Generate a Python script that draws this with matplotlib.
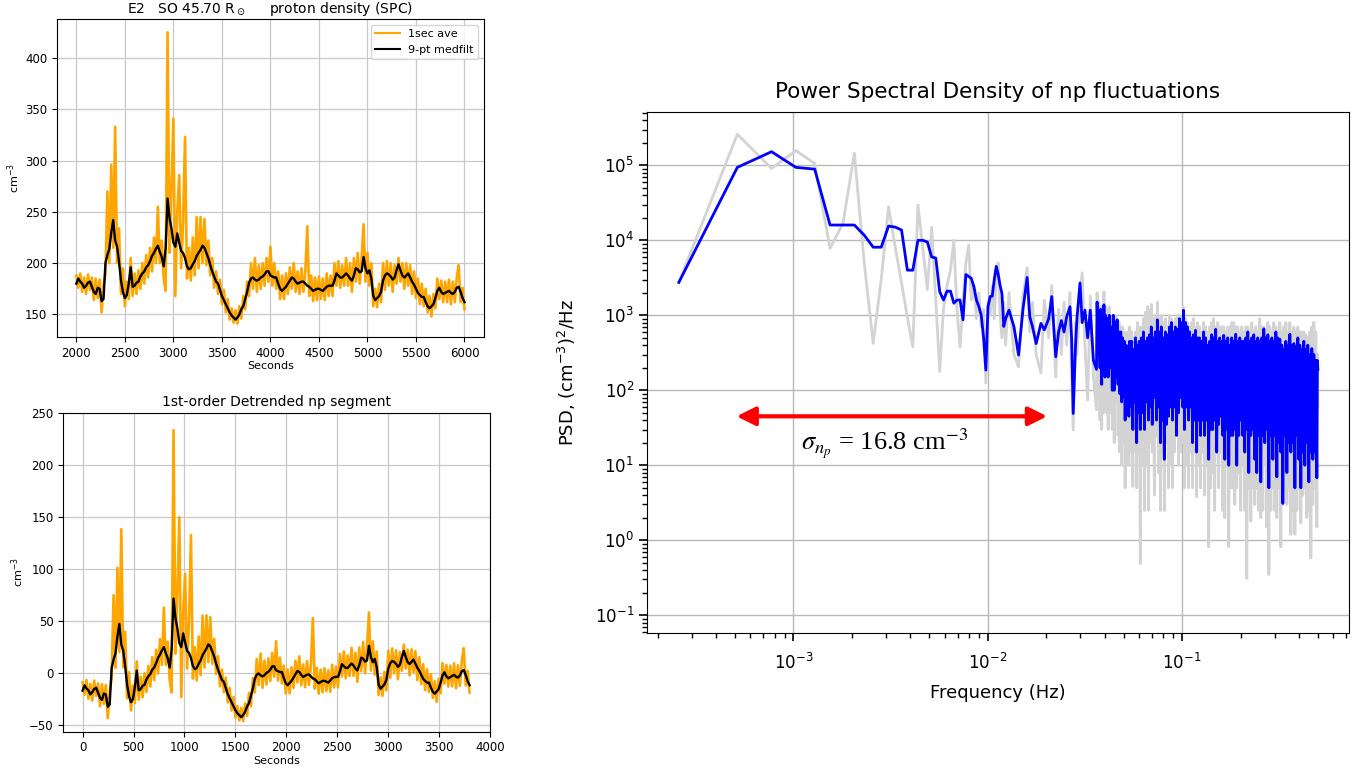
import numpy as np
import matplotlib
matplotlib.use("Agg")
import matplotlib.pyplot as plt

# ---- proton density (SPC), 1 s averages read every 20 s from t0 ----
t0 = 2000
dt = 20
ave_1s = [
    188, 176, 190, 172, 186, 170, 189, 174, 186, 164,
    185, 166, 184, 152, 178, 190, 270, 200, 296, 215,
    333, 200, 234, 170, 195, 158, 182, 165, 205, 168,
    190, 170, 193, 175, 200, 180, 208, 186, 215, 192,
    225, 200, 255, 200, 222, 185, 173, 425, 210, 270,
    341, 168, 250, 286, 195, 240, 323, 185, 215, 183,
    225, 188, 245, 195, 245, 200, 243, 198, 222, 188,
    205, 176, 192, 170, 184, 160, 174, 152, 165, 145,
    156, 142, 154, 141, 158, 146, 168, 155, 182, 168,
    200, 175, 205, 172, 198, 175, 200, 178, 205, 182,
    216, 178, 200, 175, 192, 165, 188, 165, 190, 170,
    196, 175, 200, 172, 192, 170, 195, 172, 192, 236,
    168, 188, 163, 186, 164, 187, 165, 185, 164, 190,
    168, 188, 168, 200, 178, 202, 176, 198, 178, 205,
    178, 200, 172, 205, 182, 210, 180, 205, 238, 182,
    210, 178, 200, 158, 175, 157, 180, 162, 200, 174,
    202, 178, 200, 172, 198, 180, 205, 182, 200, 175,
    200, 178, 198, 170, 192, 166, 185, 160, 180, 158,
    175, 152, 168, 148, 170, 156, 185, 165, 183, 162,
    182, 162, 184, 160, 182, 162, 186, 198, 162, 176,
    155,
]
medfilt = [
    180, 185, 182, 180, 176, 178, 181, 182, 177, 172,
    170, 176, 175, 163, 165, 200, 208, 214, 230, 242,
    222, 216, 201, 183, 172, 166, 169, 180, 196, 177,
    178, 181, 182, 187, 190, 192, 196, 198, 202, 207,
    210, 214, 217, 211, 206, 197, 214, 263, 244, 234,
    220, 216, 229, 220, 212, 210, 205, 197, 194, 195,
    199, 202, 207, 210, 213, 217, 215, 210, 205, 198,
    192, 187, 182, 180, 174, 168, 164, 160, 156, 152,
    149, 147, 145, 147, 150, 155, 158, 165, 172, 181,
    185, 186, 184, 183, 184, 186, 187, 189, 192, 192,
    188, 187, 186, 186, 180, 175, 173, 175, 177, 180,
    183, 186, 185, 182, 180, 181, 182, 182, 180, 178,
    177, 175, 173, 174, 175, 175, 174, 173, 175, 177,
    178, 178, 178, 183, 190, 188, 186, 186, 188, 190,
    188, 185, 183, 188, 195, 194, 191, 192, 206, 195,
    190, 193, 185, 168, 164, 166, 168, 172, 183, 188,
    190, 189, 187, 184, 186, 193, 199, 193, 188, 186,
    188, 190, 186, 182, 179, 175, 171, 169, 167, 167,
    162, 158, 156, 158, 160, 166, 173, 176, 172, 170,
    171, 172, 173, 171, 170, 172, 176, 177, 172, 166,
    162,
]
seg_scale = 0.95   # segment seconds after data gaps are dropped

# ---- PSD of the detrended segment ----
n_fft = 3888
psd_bin = list(range(1, 41)) + [
    41, 42, 43, 44, 45, 46, 47, 48, 50, 53, 56, 59, 62, 64, 66, 69, 73, 76,
    80, 83, 87, 90, 93, 96, 99, 103, 105, 107, 110, 112, 116, 119, 123, 127,
    131, 136,
    141, 142, 144, 145, 147, 148, 150, 151, 153, 154,
    156, 157, 159, 160, 162, 164, 166, 168, 170, 172,
    174, 176, 178, 180, 182, 184, 186, 188, 190, 192,
    194, 196, 198, 200, 202, 204, 207, 209, 212, 214,
    217, 219, 222, 224, 227, 229, 232, 234, 237, 240,
    243, 246, 249, 252, 255, 258, 261, 264, 267, 270,
    273, 276, 280, 283, 287, 290, 294, 297, 301, 304,
    308, 311, 315, 319, 323, 327, 331, 335, 339, 343,
    347, 351, 355, 359, 364, 368, 373, 377, 382, 386,
    391, 395, 400, 405, 410, 415, 420, 425, 430, 435,
    440, 445, 451, 456, 462, 467, 473, 478, 484, 490,
    496, 502, 508, 514, 520, 526, 533, 539, 546, 552,
    559, 565, 572, 579, 586, 593, 600, 607, 615, 622,
    630, 637, 645, 652, 660, 668, 676, 684, 692, 700,
    709, 717, 726, 734, 743, 752, 761, 770, 779, 788,
    798, 807, 817, 827, 837, 847, 857, 867, 878, 888,
    899, 909, 920, 931, 942, 953, 965, 976, 988, 1000,
    1012, 1024, 1036, 1048, 1061, 1074, 1087, 1100, 1113, 1126,
    1140, 1153, 1167, 1181, 1195, 1209, 1224, 1238, 1253, 1268,
    1283, 1298, 1314, 1330, 1346, 1362, 1378, 1394, 1411, 1428,
    1445, 1462, 1480, 1497, 1515, 1533, 1551, 1569, 1588, 1607,
    1626, 1645, 1665, 1685, 1705, 1725, 1746, 1767, 1788, 1809,
    1831, 1853, 1875, 1897, 1920, 1932, 1944,
]
psd_raw = [
    2750, 260000, 91000, 157000, 106000, 7800, 17000, 145000, 5000, 424,
    3000, 28000, 8000, 2700, 940, 380, 29600, 8000, 2200, 15000,
    1600, 178, 1200, 2500, 4000, 10000, 1200, 380, 1500, 5000,
    8600, 1600, 2500, 900, 2000, 700, 1200, 125, 1500, 1000,
    2500, 900, 3000, 5000, 1000, 500, 1500, 400, 2000, 300, 205, 1800,
    4300, 600, 1500, 300, 170, 1600, 500, 2500, 150, 1200, 300, 1500,
    400, 2000, 200, 29.5, 800, 300, 2000, 3700, 400, 74, 1800, 150,
    55, 2000, 80, 1500, 40, 1300, 30, 1200, 50, 2050,
    100, 1300, 50, 1200, 30, 1300, 50, 900, 30, 1000,
    20, 1000, 70, 900, 25, 800, 15, 700, 10, 700,
    20, 600, 5, 500, 20, 600, 10, 700, 15, 600,
    5.2, 500, 15, 600, 5, 800, 15, 700, 0.49, 700,
    10, 900, 2.5, 1100, 10, 1300, 2.5, 1200, 20, 1400,
    15, 900, 4, 1000, 25, 1500, 8, 900, 2.5, 1000,
    15, 800, 2.5, 900, 20, 700, 5, 1000, 10, 900,
    5, 800, 15, 900, 30, 1000, 10, 1000, 15, 900,
    20, 1300, 5, 900, 10, 800, 5, 700, 15, 800,
    5, 900, 15, 700, 3.8, 800, 10, 700, 5, 600,
    15, 800, 4, 700, 10, 600, 0.82, 700, 5, 800,
    8, 900, 2.5, 700, 15, 800, 5, 700, 15, 700,
    2.5, 700, 2, 600, 10, 700, 0.82, 700, 5, 800,
    5, 800, 3, 700, 5, 700, 8, 600, 2.5, 700,
    10, 600, 2.5, 700, 0.31, 700, 5, 600, 1.8, 800,
    5, 600, 3, 700, 5, 600, 2.5, 900, 2, 700,
    2.5, 700, 10, 600, 1.5, 800, 0.35, 700, 2.5, 600,
    5, 800, 2.5, 700, 2, 600, 5, 800, 0.82, 600,
    3, 700, 5, 800, 3, 600, 5, 800, 1.2, 600,
    2.5, 700, 1.2, 600, 2.5, 700, 5, 600, 1.7, 600,
    4, 600, 5, 550, 2, 500, 2.5, 600, 0.58, 700,
    3, 810, 5, 600, 1.5, 300, 60,
]
psd_smooth = [
    2750, 94000, 152000, 94000, 89000, 16000, 16000, 16000, 11700, 8100,
    8100, 15500, 15000, 13700, 4000, 4000, 10000, 10000, 9500, 6000,
    5800, 2070, 1600, 2100, 2100, 1450, 1600, 1600, 870, 3500,
    3300, 3100, 2400, 1600, 1300, 1000, 500, 186, 1300, 1780,
    1800, 3000, 4500, 3500, 2500, 1950, 710, 900, 1170, 710, 295, 1200,
    3200, 950, 710, 420, 780, 640, 900, 1780, 280, 600, 850, 600,
    950, 1300, 500, 49, 400, 950, 2700, 800, 1170, 500, 1170, 250,
    190, 1500, 300, 1100, 200, 1200, 120, 900, 250, 1380,
    150, 1000, 250, 900, 150, 1000, 200, 700, 100, 1000,
    100, 800, 150, 870, 120, 600, 90, 600, 70, 500,
    80, 450, 40, 400, 70, 380, 45, 450, 60, 450,
    30, 350, 70, 500, 20, 400, 50, 450, 30, 500,
    50, 600, 30, 450, 70, 500, 40, 550, 60, 700,
    35, 500, 80, 600, 40, 870, 60, 600, 20, 700,
    40, 500, 12, 600, 35, 550, 45, 700, 60, 800,
    40, 600, 60, 700, 25, 650, 50, 900, 80, 800,
    60, 1170, 30, 800, 60, 700, 40, 600, 60, 500,
    20, 550, 40, 630, 15, 500, 40, 500, 25, 450,
    40, 600, 25, 500, 40, 400, 12, 450, 30, 550,
    30, 500, 40, 650, 15, 450, 35, 500, 45, 450,
    25, 540, 12, 450, 30, 500, 10, 400, 25, 500,
    25, 450, 30, 560, 10, 450, 25, 500, 40, 450,
    25, 450, 15, 500, 30, 600, 8, 450, 25, 500,
    30, 550, 12, 450, 8, 500, 25, 450, 6, 500,
    25, 660, 20, 500, 30, 550, 5, 450, 25, 500,
    12, 450, 25, 600, 7, 500, 20, 480, 15, 400,
    3.1, 350, 25, 450, 8, 400, 20, 560, 15, 400,
    20, 420, 5, 380, 25, 500, 12, 400, 5, 350,
    15, 450, 10, 350, 20, 400, 6, 300, 15, 360,
    12, 300, 15, 250, 6.8, 250, 190,
]

fig = plt.figure(figsize=(13.72, 7.76), dpi=100)

t = t0 + dt * np.arange(len(ave_1s))
ave_1s = np.array(ave_1s, dtype=float)
medfilt = np.array(medfilt, dtype=float)

# top left: raw density
ax1 = fig.add_axes([0.0415, 0.5657, 0.3112, 0.4098])
ax1.plot(t, ave_1s, color="orange", lw=1.9, label="1sec ave")
ax1.plot(t, medfilt, color="black", lw=1.7, label="9-pt medfilt")
ax1.set_ylim(128, 438)
ax1.set_xticks(np.arange(2000, 6001, 500))
ax1.set_yticks(np.arange(150, 401, 50))
ax1.grid(True, color="#c8c8c8", lw=0.9)
ax1.tick_params(labelsize=8.5)
ax1.set_xlabel("Seconds", fontsize=8, labelpad=1)
ax1.set_ylabel("cm$^{-3}$", fontsize=8, labelpad=2)
ax1.set_title(r"E2   SO 45.70 R$_\odot$     proton density (SPC)", fontsize=10, pad=4)
leg = ax1.legend(loc="upper right", fontsize=8, handlelength=2.2)
for h in leg.get_lines():
    h.set_linewidth(1.5)

# bottom left: first-order detrended segment (trend fitted to the median-filtered series)
coef = np.polyfit(t, medfilt, 1)
trend = np.polyval(coef, t)
tseg = (t - t0) * seg_scale
ax2 = fig.add_axes([0.0461, 0.0571, 0.311, 0.4103])
ax2.plot(tseg, ave_1s - trend, color="orange", lw=1.9)
ax2.plot(tseg, medfilt - trend, color="black", lw=1.7)
ax2.set_ylim(-56, 250)
ax2.set_xticks(np.arange(0, 4001, 500))
ax2.set_yticks(np.arange(-50, 251, 50))
ax2.grid(True, color="#c8c8c8", lw=0.9)
ax2.tick_params(labelsize=8.5)
ax2.set_xlabel("Seconds", fontsize=8, labelpad=1)
ax2.set_ylabel("cm$^{-3}$", fontsize=8, labelpad=2)
ax2.set_title("1st-order Detrended np segment", fontsize=10, pad=5)

# right: PSD
freq = np.array(psd_bin) / n_fft
ax3 = fig.add_axes([0.4718, 0.1843, 0.5112, 0.671])
ax3.plot(freq, psd_raw, color="lightgray", lw=2)
ax3.plot(freq, psd_smooth, color="blue", lw=2)
ax3.set_xscale("log")
ax3.set_yscale("log")
ax3.set_xlim(1.77e-4, 0.72)
ax3.set_ylim(0.058, 5.1e5)
ax3.grid(True, which="major", color="#b8b8b8", lw=1)
ax3.tick_params(which="major", labelsize=12, length=6, width=1.2)
ax3.tick_params(axis="x", which="major", pad=8)
ax3.tick_params(which="minor", length=3.5, width=1)
ax3.set_title("Power Spectral Density of np fluctuations", fontsize=15.5, pad=10)
ax3.set_xlabel("Frequency (Hz)", fontsize=13, labelpad=8)
ax3.set_ylabel("PSD, (cm$^{-3}$)$^2$/Hz", fontsize=13, labelpad=12)

ax3.annotate("", xy=(5.1e-4, 45), xytext=(0.0202, 45),
             arrowprops=dict(arrowstyle="<|-|>", color="red", lw=3,
                             mutation_scale=28, shrinkA=0, shrinkB=0))
ax3.text(1.1e-3, 16, r"$\sigma_{n_p}$ = 16.8 cm$^{-3}$", fontsize=19,
         family="Liberation Serif", math_fontfamily="stix", va="baseline")

fig.savefig("out.png", dpi=100)
